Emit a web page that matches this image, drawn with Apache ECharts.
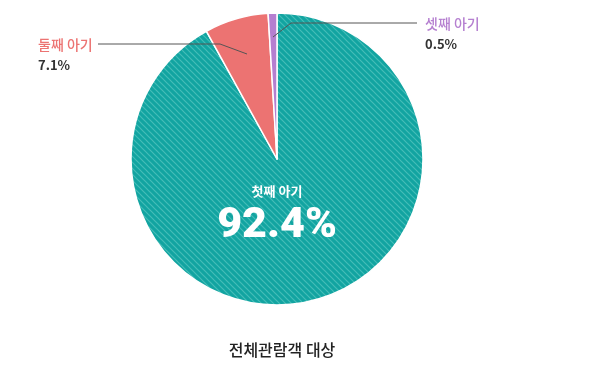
<!DOCTYPE html>
<html><head><meta charset="utf-8">
<script src="https://cdn.jsdelivr.net/npm/echarts@6/dist/echarts.min.js"></script>
<style>html,body{margin:0;padding:0;background:#fff}#c{width:593px;height:369px}</style>
</head><body><div id="c"></div>
<script>
const categories = ['첫째 아기', '둘째 아기', '셋째 아기'];
const values = [92.4, 7.1, 0.5];
const colors = ['#12a4a1', '#ec7372', '#b57fd0'];
const title = '전체관람객 대상';

function hatch(base, stripe) {
  const c = document.createElement('canvas');
  c.width = 6; c.height = 6;
  const g = c.getContext('2d');
  g.fillStyle = base; g.fillRect(0, 0, 6, 6);
  g.strokeStyle = stripe; g.lineWidth = 1.2;
  g.beginPath();
  g.moveTo(-1, -1); g.lineTo(7, 7);
  g.moveTo(-4, 2); g.lineTo(4, 10);
  g.moveTo(2, -4); g.lineTo(10, 4);
  g.stroke();
  return c;
}

const chart = echarts.init(document.getElementById('c'));
const labelPos = [
  { x: 277, y: 213, align: 'center', verticalAlign: 'middle' },
  { x: 38, y: 34, align: 'left', verticalAlign: 'top' },
  { x: 425, y: 13, align: 'left', verticalAlign: 'top' }
];
const leaderLines = [
  [[247, 54], [220, 44], [98, 44]],
  [[273, 37], [291, 23], [417, 23]]
];
chart.setOption({
  animation: false,
  title: {
    text: title, left: 277, top: 337, textAlign: 'center',
    textStyle: { fontFamily: 'Noto Sans CJK KR', fontSize: 16, fontWeight: 500, color: '#222' }
  },
  graphic: leaderLines.map(pts => ({
    type: 'polyline', z: 100, silent: true,
    shape: { points: pts },
    style: { stroke: '#555', lineWidth: 1, fill: null }
  })),
  series: [{
    type: 'pie',
    center: [277, 159],
    radius: [0, 146],
    startAngle: 90,
    clockwise: true,
    minAngle: 3.5,
    avoidLabelOverlap: false,
    itemStyle: { borderColor: '#fff', borderWidth: 1.5 },
    labelLine: { show: false },
    labelLayout: function (p) { return labelPos[p.dataIndex]; },
    data: categories.map((n, i) => ({
      name: n, value: values[i],
      itemStyle: { color: i === 0 ? { image: hatch('#12a4a1', '#46bdb8'), repeat: 'repeat' } : colors[i] },
      label: i === 0 ? {
        show: true, position: 'inside',
        formatter: '{n|{b}}\n{v|{c}%}',
        rich: {
          n: { fontFamily: 'Noto Sans CJK KR', fontSize: 13, fontWeight: 700, color: '#fff', lineHeight: 26, align: 'center' },
          v: { fontFamily: 'Roboto', fontSize: 43, fontWeight: 900, color: '#fff', lineHeight: 44, align: 'center' }
        }
      } : {
        show: true, position: 'outside',
        formatter: '{n|{b}}\n{v|{c}%}',
        rich: {
          n: { fontFamily: 'Noto Sans CJK KR', fontSize: 14, fontWeight: 500, color: colors[i], lineHeight: 21 },
          v: { fontFamily: 'Noto Sans CJK KR', fontSize: 13, fontWeight: 700, color: '#333', lineHeight: 21 }
        }
      }
    }))
  }]
});
</script></body></html>
